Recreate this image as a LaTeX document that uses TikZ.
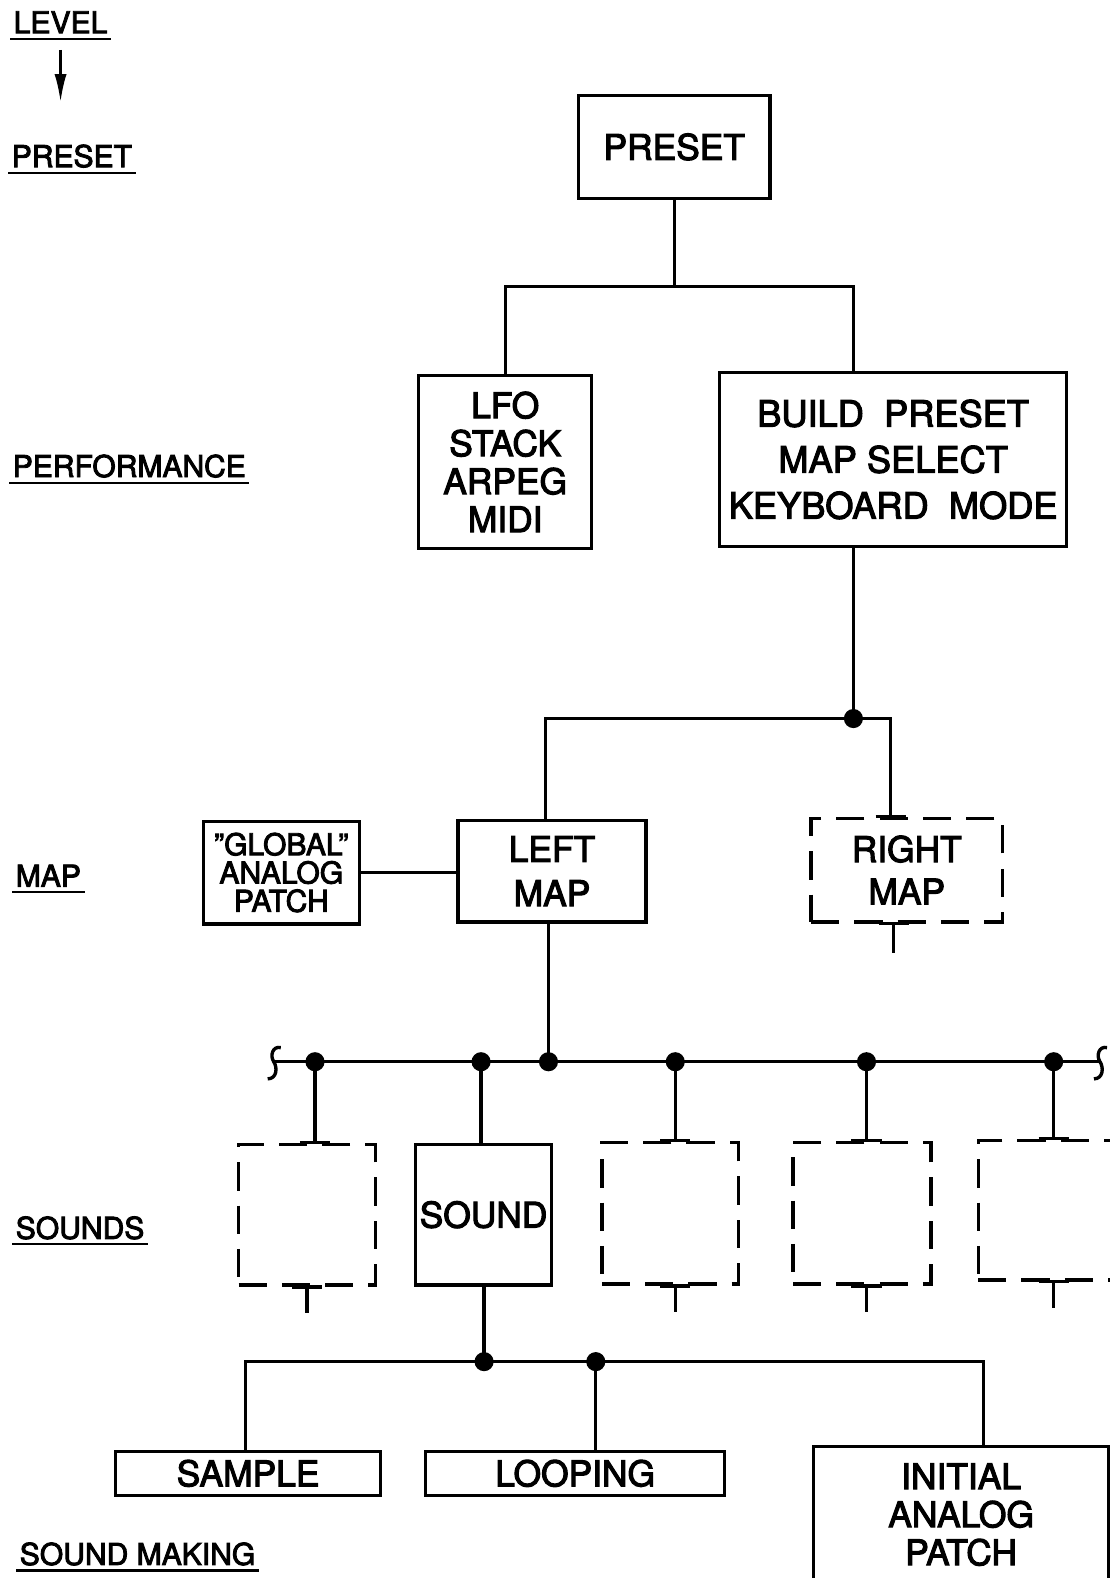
\documentclass[tikz,border=0pt]{standalone}
\usepackage{fontspec}
\setmainfont{TeX Gyre Heros}[BoldFont=TeX Gyre Heros, BoldFeatures={FakeBold=3}]
\usetikzlibrary{arrows.meta}
\tikzset{
  blk/.style={draw, line width=1.9pt, inner sep=0pt, align=center,
    font=\fontsize{20}{22}\selectfont\bfseries},
  ghost/.style={blk, dash pattern=on 0.56cm off 0.3cm},
  lvl/.style={anchor=base west, inner sep=0pt, font=\fontsize{17}{17}\selectfont\bfseries},
  brk/.pic={\draw (7,-14) .. controls (-1,-16) and (-4,-6) .. (0,0)
    .. controls (4,6) and (3,17) .. (-6,17);},
}
\begin{document}
\begin{tikzpicture}[x=0.02cm,y=-0.02cm,line width=1.9pt]
  \useasboundingbox (0,0) rectangle (1102,1568);
  % level names down the left side
  \node[lvl] (lvl) at (12,33) {LEVEL};
  \node[lvl] (lpre) at (10,166) {PRESET};
  \node[lvl] (lperf) at (11,474) {PERFORMANCE};
  \node[lvl] (lmp) at (14,881) {MAP};
  \node[lvl] (lsnd) at (14,1231) {SOUNDS};
  \node[lvl] (lmake) at (18,1555) {SOUND MAKING};
  \foreach \n in {lvl,lpre,lperf,lmp,lsnd,lmake}
    \draw[line width=1.2pt] ([shift={(-0.04cm,-0.11cm)}]\n.base west) -- ([shift={(0.04cm,-0.11cm)}]\n.base east);
  \coordinate (lvlend) at ([yshift=-1.34cm]lvl.south);
  \draw[line width=1.5pt, -{Latex[length=0.56cm,width=0.24cm]}] ([yshift=-0.3cm]lvl.south) -- (lvlend);

  % boxes
  \node[blk, minimum width=3.8cm, minimum height=2.04cm] (preset) at (670,146) {PRESET};
  \node[blk, minimum width=3.44cm, minimum height=3.44cm, font=\fontsize{20}{21.5}\selectfont\bfseries] (lfo) at (502,459) {LFO\\STACK\\ARPEG\\MIDI};
  \node[blk, minimum width=6.9cm, minimum height=3.46cm, font=\fontsize{20.5}{26}\selectfont\bfseries] (build) at (887.5,456.5) {BUILD\ \ PRESET\\MAP SELECT\\KEYBOARD\ \ MODE};
  \node[blk, minimum width=3.1cm, minimum height=2.04cm, font=\fontsize{17}{16}\selectfont\bfseries] (glob) at (279.5,867) {"GLOBAL"\\ANALOG\\PATCH};
  \node[blk, minimum width=3.74cm, minimum height=2.02cm, font=\fontsize{20}{25}\selectfont\bfseries] (lmap) at (548.5,865.5) {LEFT\\MAP};
  \node[ghost, minimum width=3.8cm, minimum height=2.06cm, font=\fontsize{20}{24}\selectfont\bfseries] (rmap) at (901,864.5) {RIGHT\\MAP};
  \node[ghost, minimum width=2.72cm, minimum height=2.8cm] (s1) at (305,1207) {};
  \node[blk, minimum width=2.7cm, minimum height=2.8cm] (snd) at (480.5,1207) {SOUND};
  \node[ghost, minimum width=2.72cm, minimum height=2.82cm] (s3) at (666,1205.5) {};
  \node[ghost, minimum width=2.74cm, minimum height=2.82cm] (s4) at (856.5,1205.5) {};
  \node[ghost, minimum width=2.72cm, minimum height=2.78cm] (s5) at (1040,1202.5) {};
  \node[blk, minimum width=5.26cm, minimum height=0.88cm] (sample) at (246.5,1464) {SAMPLE};
  \node[blk, minimum width=5.94cm, minimum height=0.88cm] (loop) at (571.5,1464) {LOOPING};
  \node[blk, minimum width=5.88cm, minimum height=2.7cm, font=\fontsize{20}{21.5}\selectfont\bfseries] (init) at (955,1505) {INITIAL\\ANALOG\\PATCH};

  % junctions
  \coordinate (j1) at (670,285);
  \coordinate (d0) at (848,714);
  \coordinate (j2) at (542,714);
  \coordinate (j3) at (885,714);
  \coordinate (busL) at (272,1055);
  \coordinate (busR) at (1093,1055);
  \coordinate (b1) at (313,1055);
  \coordinate (b2) at (478,1055);
  \coordinate (b3) at (545,1055);
  \coordinate (b4) at (671,1055);
  \coordinate (b5) at (861,1055);
  \coordinate (b6) at (1047,1055);
  \coordinate (c1) at (481,1353);
  \coordinate (c2) at (592,1353);
  \coordinate (k1) at (244,1353);
  \coordinate (k4) at (977,1353);

  % connections
  \draw (preset) -- (j1);
  \draw (lfo.north) |- (j1) -| (build.north -| d0);
  \draw (d0 |- build.south) -- (d0);
  \draw (lmap.north -| j2) -- (j2) -- (j3) -- (j3 |- rmap.north);
  \draw (glob.east) -- (glob.east -| lmap.west);
  \draw (b3 |- lmap.south) -- (b3);
  \draw (busL) -- (busR);
  \pic at (busL) {brk};
  \pic at (busR) {brk};
  \foreach \b/\s in {b1/s1,b2/snd,b4/s3,b5/s4,b6/s5}
    \draw (\b) -- (\b |- \s.north);
  \draw (c1 |- snd.south) -- (c1);
  \draw (sample.north -| k1) -- (k1) -- (k4) -- (k4 |- init.north);
  \draw (c2) -- (c2 |- loop.north);

  % tees on the dashed boxes
  \coordinate (r0) at ([xshift=-0.26cm]rmap.south);
  \coordinate (r1) at (j3 |- rmap.north);
  \coordinate (u0) at (s1.south);
  \coordinate (u1) at (b1 |- s1.north);
  \coordinate (v0) at (b4 |- s3.south);
  \coordinate (v1) at (b4 |- s3.north);
  \coordinate (w0) at (b5 |- s4.south);
  \coordinate (w1) at (b5 |- s4.north);
  \coordinate (z0) at (b6 |- s5.south);
  \coordinate (z1) at (b6 |- s5.north);
  \draw (r0) -- ++(0,29) coordinate (t0);
  \draw (u0) -- ++(0,26) coordinate (t1);
  \draw (v0) -- ++(0,26) coordinate (t3);
  \draw (w0) -- ++(0,26) coordinate (t4);
  \draw (z0) -- ++(0,26) coordinate (t5);
  \foreach \p in {r0,r1,u0,u1,v0,v1,w0,w1,z0,z1}
    \draw ([xshift=-0.3cm]\p) -- ([xshift=0.3cm]\p);

  \foreach \d in {d0,b1,b2,b3,b4,b5,b6,c1,c2}
    \fill (\d) circle (0.19cm);
\end{tikzpicture}
\end{document}
